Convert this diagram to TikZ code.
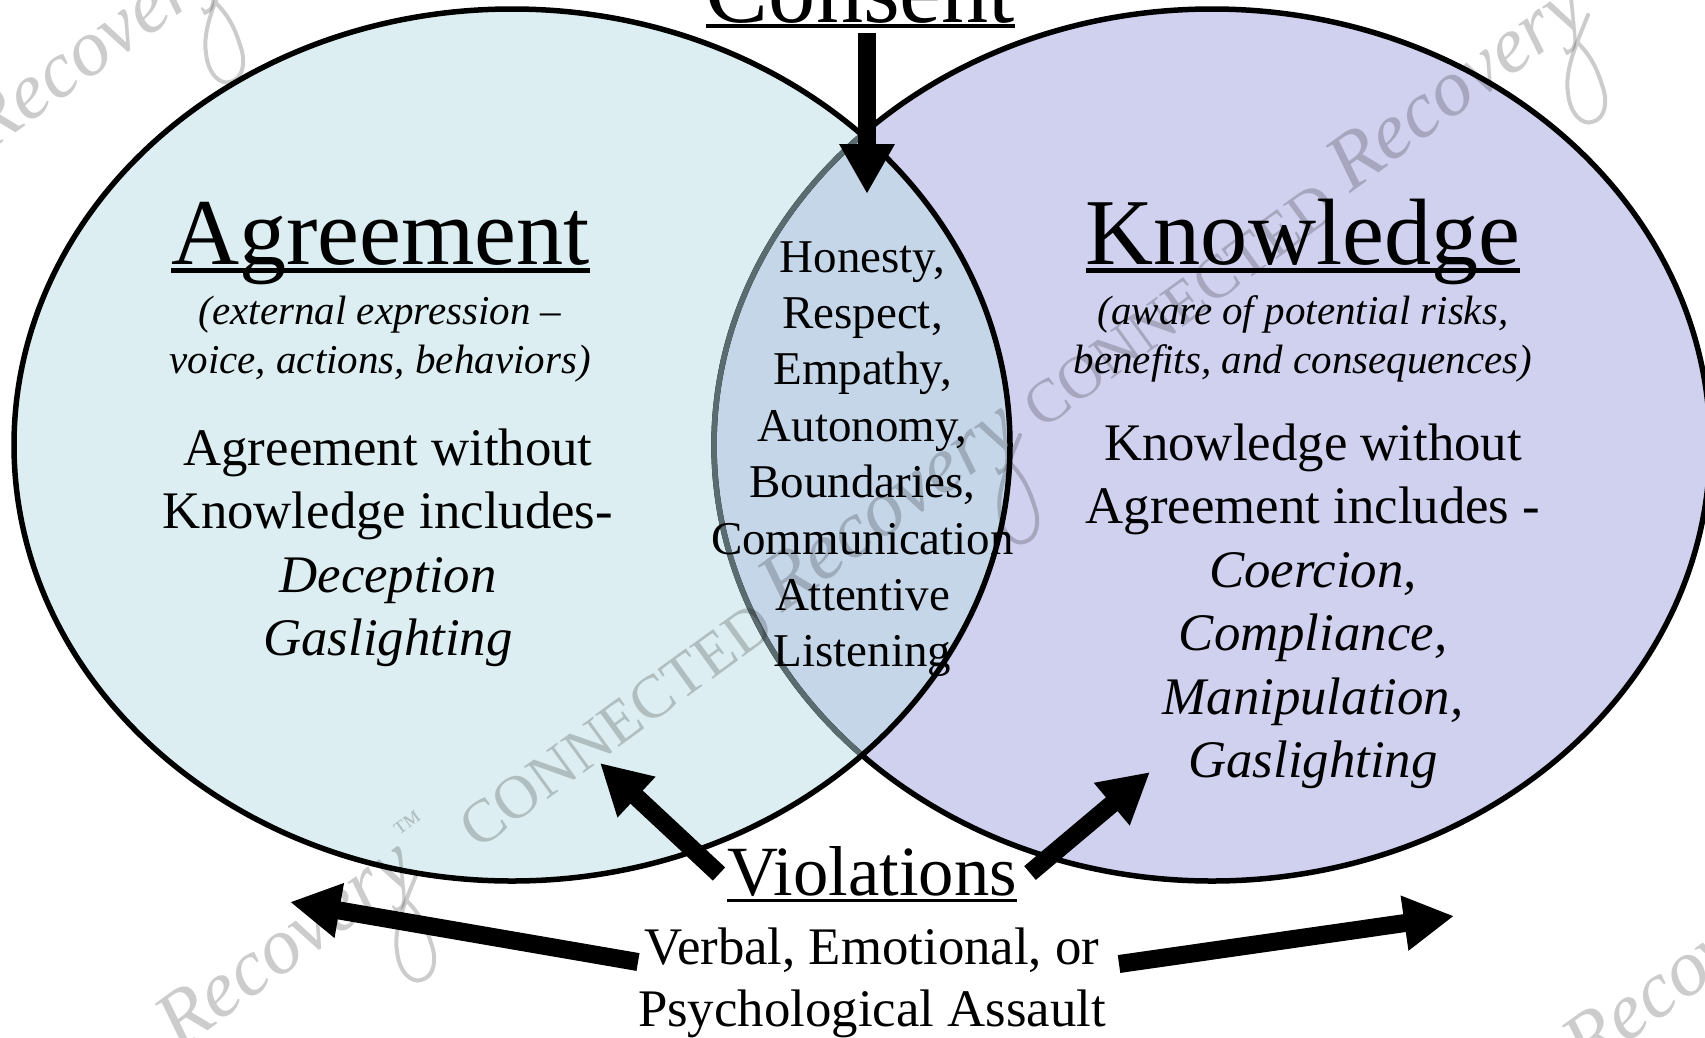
\documentclass[tikz,border=0pt]{standalone}
\usepackage{fontspec}
\setmainfont{Liberation Serif}
\usetikzlibrary{arrows.meta}
\definecolor{leftfill}{HTML}{DCEEF1}
\definecolor{rightfill}{HTML}{D0D1EF}
\definecolor{midfill}{HTML}{C5D6E9}
\definecolor{midline}{HTML}{5B6C70}
\newsavebox{\ulbox}
% underlined text: {rule top depth}{rule thickness}{text}
\newcommand{\ulined}[3]{\sbox{\ulbox}{#3}\leavevmode\rlap{\rule[-#1]{\wd\ulbox}{#2}}\usebox{\ulbox}}
\newcommand{\blockt}[1]{\begin{tabular}[t]{@{}c@{}}#1\end{tabular}}
\tikzset{
  txt/.style={inner sep=0pt,outer sep=0pt,anchor=base,text=black},
  heading/.style={txt,font=\fontsize{94.3}{94}\selectfont},
  sub/.style={txt,font=\fontsize{41}{49}\selectfont\itshape},
  bodytxt/.style={txt,font=\fontsize{52.8}{63.5}\selectfont},
  midtxt/.style={txt,font=\fontsize{47}{56.4}\selectfont},
  viol/.style={txt,font=\fontsize{70.6}{69}\selectfont},
  violsub/.style={txt,font=\fontsize{52.8}{62.5}\selectfont},
  circ/.style={line width=5.5pt,draw=black},
  bigarrow/.style={line width=18pt,-{Triangle[length=50pt,width=52pt]},draw=black},
  wm/.style={inner sep=0pt,outer sep=0pt,anchor=base west,rotate=36,text=black,text opacity=0.2},
  wmco/.style={wm,font=\fontsize{61}{61}\selectfont},
  wmre/.style={wm,font=\fontsize{80}{80}\selectfont\itshape},
  wmtm/.style={wm,font=\fontsize{30}{30}\selectfont},
  wmloop/.style={draw=black,draw opacity=0.2,line width=4pt,line cap=round},
}
\newcommand{\yloop}[2]{\draw[wmloop,shift={(#1,#2)}] (0,0) .. controls (-10,25) and (-24,55) .. (-20,78) .. controls (-18,100) and (-5,110) .. (4,107) .. controls (18,104) and (20,85) .. (14,70) .. controls (8,50) and (0,38) .. (-10,28);}
\begin{document}
\begin{tikzpicture}[x=1pt,y=-1pt]
\useasboundingbox (0,0) rectangle (1705,1037);
\clip (0,0) rectangle (1705,1037);
% circles: the right one lies under the left one, which is see-through
\path[fill=leftfill] (512,445) ellipse [x radius=498,y radius=436];
\path[fill=rightfill] (1212,445) ellipse [x radius=498,y radius=436];
\begin{scope}
  \clip (512,445) ellipse [x radius=498,y radius=436];
  \path[fill=midfill] (1212,445) ellipse [x radius=498,y radius=436];
\end{scope}
\draw[circ] (1212,445) ellipse [x radius=498,y radius=436];
\begin{scope}
  \clip (512,445) ellipse [x radius=498,y radius=436];
  \draw[circ,draw=midline] (1212,445) ellipse [x radius=498,y radius=436];
\end{scope}
\draw[circ] (512,445) ellipse [x radius=498,y radius=436];
% watermark
\node[wmre] (wmA) at (-12,153) {Recovery};
\yloop{226}{-25}
\node[wmtm] (wmT) at (403,842) {™};
\node[wmco] (wmB) at (478,850) {CONNECTED};
\node[wmre] (wmC) at (782,613) {Recovery};
\yloop{1020}{435}
\node[wmco] (wmD) at (1042,430) {CONNECTED};
\node[wmre] (wmE) at (1350,193) {Recovery};
\yloop{1588}{15}
\node[wmre] (wmF) at (179,1051) {Recovery};
\yloop{417}{873}
\node[wmre] (wmG) at (1586,1073) {Recovery};
% titles
\node[heading] (consent) at (860.5,22) {\ulined{6pt}{4.5pt}{Consent}};
\node[heading] (agreement) at (380.5,264) {\ulined{8.5pt}{4.5pt}{Agreement}};
\node[heading] (knowledge) at (1303,264) {\ulined{8.5pt}{4.5pt}{Knowledge}};
% subtitles
\node[sub] (subL) at (380,324) {\blockt{(external expression –\\voice, actions, behaviors)}};
\node[sub] (subR) at (1303,324) {\blockt{(aware of potential risks,\\benefits, and consequences)}};
% body
\node[bodytxt] (bodyL) at (388,465) {\blockt{Agreement without\\Knowledge includes-\\\textit{Deception}\\\textit{Gaslighting}}};
\node[bodytxt] (bodyR) at (1313,460) {\blockt{Knowledge without\\Agreement includes -\\\textit{Coercion,}\\\textit{Compliance,}\\\textit{Manipulation,}\\\textit{Gaslighting}}};
\node[midtxt] (mid) at (862.5,272) {\blockt{Honesty,\\Respect,\\Empathy,\\Autonomy,\\Boundaries,\\Communication\\Attentive\\Listening}};
% violations
\node[viol] (violations) at (872,895) {\ulined{7pt}{3.5pt}{Violations}};
\node[violsub] (assault) at (872,964) {\blockt{Verbal, Emotional, or\\Psychological Assault}};
% arrows
\coordinate (cS) at (867,33);
\coordinate (cE) at (867,194);
\coordinate (vlS) at (719,874);
\coordinate (vlE) at (600,763);
\coordinate (vrS) at (1030,873);
\coordinate (vrE) at (1150,772);
\coordinate (blS) at (638,962);
\coordinate (blE) at (290,902);
\coordinate (brS) at (1119,964);
\coordinate (brE) at (1454,916);
\draw[bigarrow] (cS) -- (cE);
\draw[bigarrow] (vlS) -- (vlE);
\draw[bigarrow] (vrS) -- (vrE);
\draw[bigarrow] (blS) -- (blE);
\draw[bigarrow] (brS) -- (brE);
\end{tikzpicture}
\end{document}
